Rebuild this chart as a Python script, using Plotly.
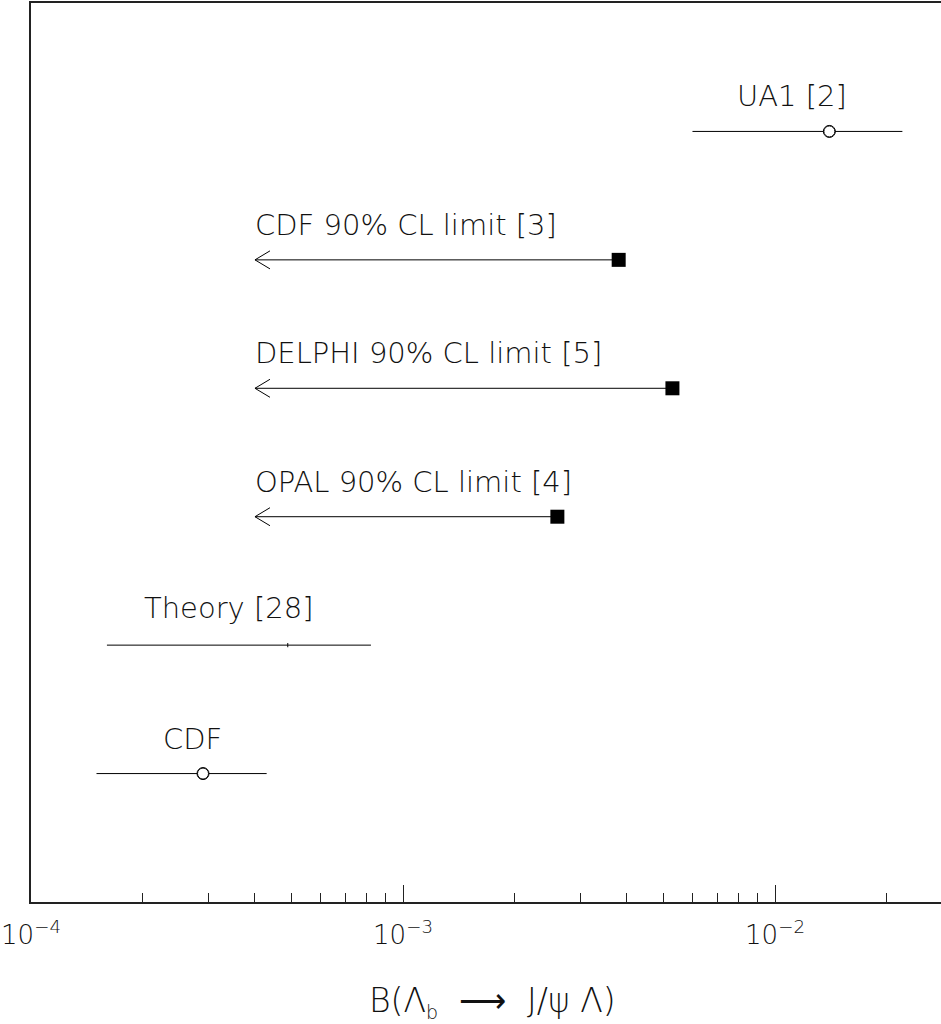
import numpy as np
import plotly.graph_objects as go

# Measurements with symmetric errors
meas_names = ["UA1 [2]", "CDF"]
meas_values = [1.4e-2, 2.9e-4]
meas_errors = [0.8e-2, 1.4e-4]
meas_rows = [6, 1]

# 90% CL upper limits
limit_names = ["CDF 90% CL limit [3]", "DELPHI 90% CL limit [5]", "OPAL 90% CL limit [4]"]
limit_values = [3.8e-3, 5.3e-3, 2.6e-3]
limit_rows = [5, 4, 3]
arrow_end = 4.0e-4

# Theory prediction band
theory_name = "Theory [28]"
theory_value = 4.9e-4
theory_error = 3.3e-4
theory_row = 2

# Axis ticks
major_ticks = [1e-4, 1e-3, 1e-2]
major_labels = ["10<sup>−4</sup>", "10<sup>−3</sup>", "10<sup>−2</sup>"]
minor_ticks = [m * d for d in (1e-4, 1e-3, 1e-2) for m in range(2, 10) if m * d < 3e-2]

FONT = "DejaVu Sans ExtraLight, DejaVu Sans, sans-serif"
W, H = 941, 1024
ML, MR, MT, MB = 31, 0, 3, 122
XLOG = [-4.0, -4.0 + (W - ML - MR) / 372.0]
YR = [0, 7]
px_per_dec = (W - ML - MR) / (XLOG[1] - XLOG[0])
px_per_row = (H - MT - MB) / (YR[1] - YR[0])

fig = go.Figure()

# measured points with horizontal error bars
fig.add_trace(go.Scatter(
    x=meas_values, y=meas_rows, mode="markers",
    marker=dict(symbol="circle-open", size=12, color="black",
                line=dict(width=1, color="black")),
    error_x=dict(type="data", array=meas_errors, arrayminus=meas_errors,
                 width=0, thickness=1, color="black"),
    showlegend=False, hoverinfo="skip"))
# white fill inside the circles
fig.add_trace(go.Scatter(
    x=meas_values, y=meas_rows, mode="markers",
    marker=dict(symbol="circle", size=11, color="white",
                line=dict(width=1, color="black")),
    showlegend=False, hoverinfo="skip"))

# theory band
fig.add_trace(go.Scatter(
    x=[theory_value], y=[theory_row], mode="markers",
    marker=dict(symbol="line-ns", size=3, color="black",
                line=dict(width=1, color="black")),
    error_x=dict(type="data", array=[theory_error], arrayminus=[theory_error],
                 width=0, thickness=1, color="black"),
    showlegend=False, hoverinfo="skip"))

# upper limits: line + arrowhead + filled square
head_dx = 10 ** (15 / px_per_dec)
head_dy = 9 / px_per_row
for v, r in zip(limit_values, limit_rows):
    fig.add_trace(go.Scatter(
        x=[arrow_end, v], y=[r, r], mode="lines",
        line=dict(color="black", width=1),
        showlegend=False, hoverinfo="skip"))
    fig.add_trace(go.Scatter(
        x=[arrow_end * head_dx, arrow_end, arrow_end * head_dx],
        y=[r + head_dy, r, r - head_dy], mode="lines",
        line=dict(color="black", width=1),
        showlegend=False, hoverinfo="skip"))
fig.add_trace(go.Scatter(
    x=limit_values, y=limit_rows, mode="markers",
    marker=dict(symbol="square", size=14, color="black"),
    showlegend=False, hoverinfo="skip"))

# text labels
annos = []
label_font = dict(family=FONT, size=29, color="#111", weight=200)
for name, v, e, r, sh in zip(meas_names, meas_values, meas_errors, meas_rows, [-5, 11]):
    mid = np.sqrt((v - e) * (v + e))
    annos.append(dict(x=np.log10(mid), y=r, text=name, showarrow=False,
                      xanchor="center", yanchor="middle", yshift=35, xshift=sh,
                      font=label_font))
tmid = np.sqrt((theory_value - theory_error) * (theory_value + theory_error))
annos.append(dict(x=np.log10(tmid), y=theory_row, text=theory_name, showarrow=False,
                  xanchor="center", yanchor="middle", yshift=37, xshift=-10,
                  font=label_font))
for name, r in zip(limit_names, limit_rows):
    annos.append(dict(x=np.log10(arrow_end), y=r, text=name, showarrow=False,
                      xanchor="left", yanchor="middle", yshift=35, xshift=-2,
                      font=label_font))

# axis title
annos.append(dict(xref="paper", yref="paper", x=(492 - ML) / (W - ML - MR), y=0,
                  text="B(Λ<sub><span style='font-size:19px'>b</span></sub>  ⟶  J/ψ Λ)",
                  showarrow=False,
                  xanchor="center", yanchor="middle", yshift=-100,
                  font=dict(family=FONT, size=33, color="#111", weight=200)))

fig.update_layout(
    width=W, height=H,
    margin=dict(l=ML, r=MR, t=MT, b=MB),
    paper_bgcolor="white", plot_bgcolor="white",
    annotations=annos,
    xaxis=dict(type="log", range=XLOG, showgrid=False, zeroline=False,
               showline=True, linecolor="#222", linewidth=1.5, mirror=True,
               tickmode="array", tickvals=major_ticks, ticktext=major_labels,
               ticks="inside", ticklen=17, tickwidth=1, tickcolor="#222",
               tickfont=dict(family=FONT, size=26, color="#111", weight=200),
               ticklabelstandoff=9,
               minor=dict(tickmode="array", tickvals=minor_ticks, ticks="inside",
                          ticklen=9, tickwidth=1, tickcolor="#222", showgrid=False)),
    yaxis=dict(range=YR, showgrid=False, zeroline=False, showline=True,
               linecolor="#222", linewidth=1.5, showticklabels=False, ticks=""),
)

fig.write_html("out.html")
